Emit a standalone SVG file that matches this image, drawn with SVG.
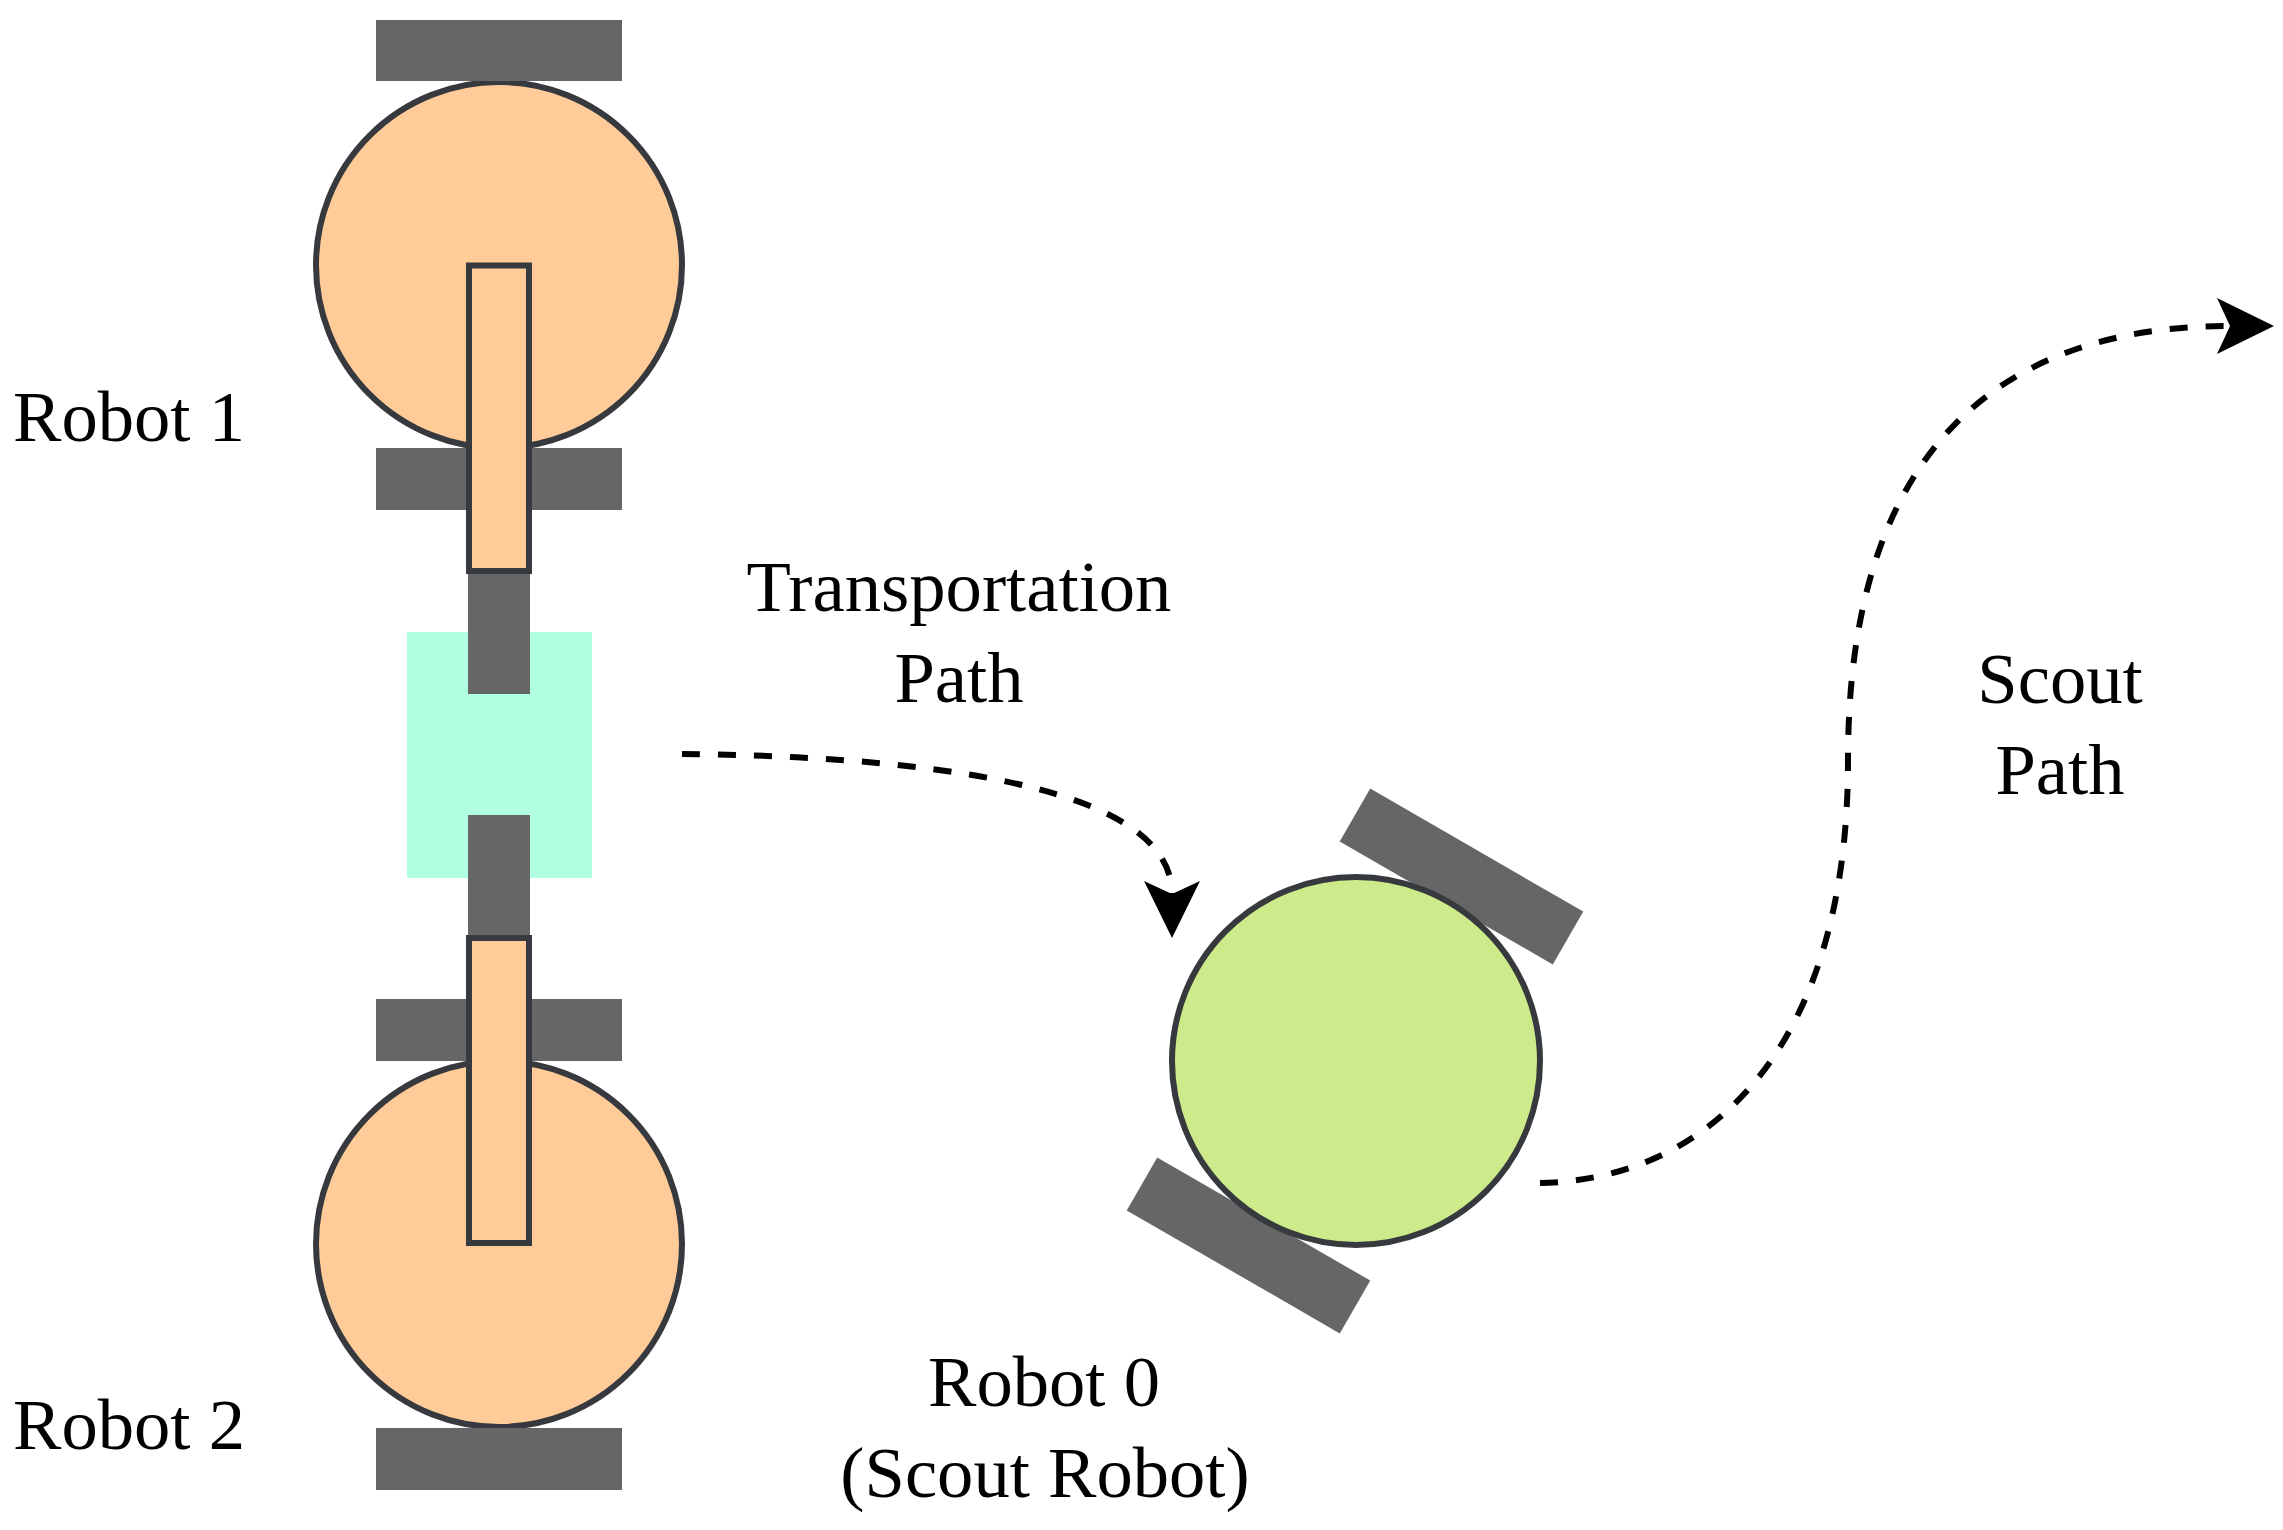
<svg xmlns="http://www.w3.org/2000/svg" width="2283" height="1530" viewBox="0 0 2283 1530">
  <style>
    .wheel { fill: #666666; stroke: none; }
    .body1 { fill: #FFCC99; stroke: #36393D; stroke-width: 6; }
    .body0 { fill: #CDEB8B; stroke: #36393D; stroke-width: 6; }
    .arm { fill: #FFCC99; stroke: #36393D; stroke-width: 6; }
    .grip { fill: #666666; stroke: none; }
    .payload { fill: #AFFFE0; stroke: none; }
    .path { fill: none; stroke: #000000; stroke-width: 6; stroke-dasharray: 18 18; marker-end: url(#arrow); }
    .label { font-family: "Liberation Serif", "Times New Roman", serif; font-size: 72.6px; fill: #000000; }
  </style>
  <defs>
    <marker id="arrow" markerUnits="userSpaceOnUse" markerWidth="58" markerHeight="58" viewBox="0 0 58 58" refX="13" refY="29" orient="auto" overflow="visible">
      <path d="M0,1 L57,29 L0,57 L13,29 Z" fill="#000000" stroke="none"/>
    </marker>
  </defs>
  <rect x="0" y="0" width="2283" height="1530" fill="#FFFFFF"/>

  <g id="payload">
    <rect class="payload" x="407" y="632" width="185" height="246"/>
  </g>

  <g id="robot1">
    <circle class="body1" cx="499" cy="265" r="183"/>
    <rect class="wheel" x="376" y="20" width="246" height="61"/>
    <rect class="wheel" x="376" y="448" width="246" height="62"/>
    <rect class="grip" x="468" y="560" width="62" height="134"/>
    <rect class="arm" x="469" y="265.5" width="60" height="305.5"/>
    <text class="label" x="13" y="441">Robot 1</text>
  </g>

  <g id="robot2">
    <circle class="body1" cx="499" cy="1244" r="183"/>
    <rect class="wheel" x="376" y="999" width="246" height="62"/>
    <rect class="wheel" x="376" y="1428" width="246" height="62"/>
    <rect class="grip" x="468" y="815" width="62" height="134"/>
    <rect class="arm" x="469" y="938" width="60" height="305"/>
    <text class="label" x="13" y="1449">Robot 2</text>
  </g>

  <g id="robot0">
    <g transform="rotate(30 1355 1061)">
      <rect class="wheel" x="1232" y="817.5" width="246" height="61"/>
      <rect class="wheel" x="1232" y="1243.5" width="246" height="61"/>
    </g>
    <circle class="body0" cx="1356" cy="1061" r="184"/>
    <text class="label" text-anchor="middle" x="1044" y="1406">Robot 0</text>
    <text class="label" text-anchor="middle" x="1045" y="1497">(Scout Robot)</text>
  </g>

  <g id="connectors">
    <path id="transport-path" class="path" d="M682,754 C900,756 1172,780 1172,894"/>
    <path id="scout-path" class="path" d="M1540,1183 C1700,1180 1848,1060 1848,760 C1848,460 1990,326 2230,326"/>
  </g>

  <g id="label-transport">
    <text class="label" text-anchor="middle" x="959" y="611">Transportation</text>
    <text class="label" text-anchor="middle" x="959" y="702">Path</text>
  </g>
  <g id="label-scout">
    <text class="label" text-anchor="middle" x="2060" y="703">Scout</text>
    <text class="label" text-anchor="middle" x="2060" y="794">Path</text>
  </g>
</svg>
